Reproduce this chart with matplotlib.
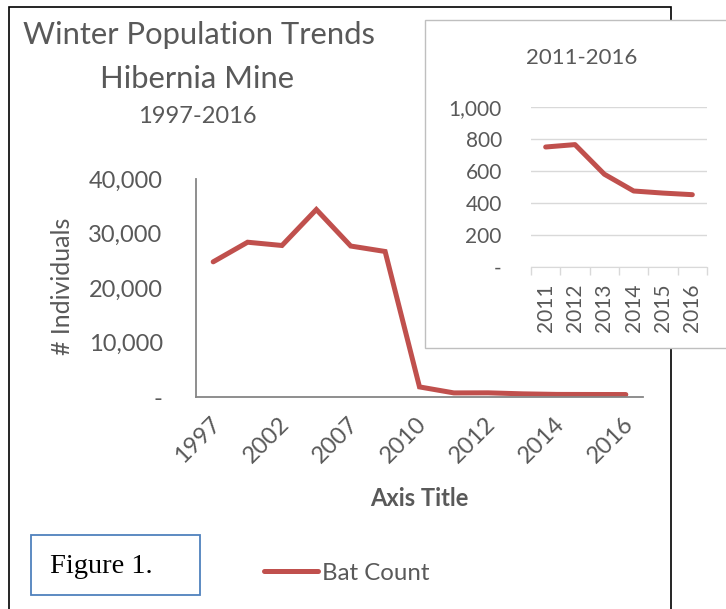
import matplotlib
matplotlib.use("Agg")
import matplotlib.pyplot as plt
from matplotlib.patches import Rectangle
from matplotlib.lines import Line2D
from matplotlib.transforms import ScaledTranslation

# bat counts per winter survey
years = ["1997", "1999", "2002", "2005", "2007", "2009", "2010",
         "2011", "2012", "2013", "2014", "2015", "2016"]
counts = [24800, 28400, 27800, 34400, 27700, 26700, 1850,
          750, 765, 580, 475, 462, 452]

# zoomed inset: the last six winters
inset_years = years[7:]
inset_counts = counts[7:]

main_yticks = [0, 10000, 20000, 30000, 40000]
main_ylabels = ["-", "10,000", "20,000", "30,000", "40,000"]
inset_yticks = [0, 200, 400, 600, 800, 1000]
inset_ylabels = ["-", "200", "400", "600", "800", "1,000"]

W, H = 726, 609
RED = "#C0504D"
GREY = "#595959"
FONT = "Lato"

plt.rcParams["font.family"] = [FONT, "DejaVu Sans"]


def fx(x):
    return x / W


def fy(y):
    return 1 - y / H


fig = plt.figure(figsize=(W / 100, H / 100), dpi=100)

# outer black frame (runs off the bottom of the image)
fig.patches.append(Rectangle((fx(9), fy(640)), fx(671) - fx(9), fy(7) - fy(640),
                             transform=fig.transFigure, fill=False,
                             edgecolor="black", lw=1.2, zorder=1))

# main chart
ax = fig.add_axes([fx(196), fy(397), fx(643) - fx(196), fy(179) - fy(397)])
ax.set_facecolor("none")
ax.plot(range(len(years)), counts, color=RED, lw=3.6,
        solid_joinstyle="miter", solid_capstyle="round", label="Bat Count")
ax.set_xlim(-0.5, len(years) - 0.5)
ax.set_ylim(0, 40000)
ax.set_yticks(main_yticks)
ax.set_yticklabels(main_ylabels)
ax.set_xticks(range(0, len(years), 2))
ax.set_xticklabels(years[::2], rotation=45, ha="right", va="center",
                   rotation_mode="anchor")
ax.tick_params(axis="both", length=0, labelsize=17, colors=GREY)
ax.tick_params(axis="x", pad=17)
ax.tick_params(axis="y", pad=24)
shift = ScaledTranslation(4 / 100, 0, fig.dpi_scale_trans)
for lbl in ax.get_xticklabels():
    lbl.set_transform(lbl.get_transform() + shift)
for s in ("top", "right"):
    ax.spines[s].set_visible(False)
for s in ("left", "bottom"):
    ax.spines[s].set_color("#868686")
    ax.spines[s].set_linewidth(1.3)

# titles on the left
fig.text(fx(199), fy(44), "Winter Population Trends", ha="center",
         va="baseline", fontsize=22.3, color=GREY)
fig.text(fx(197), fy(88), "Hibernia Mine", ha="center", va="baseline",
         fontsize=22.3, color=GREY)
fig.text(fx(197), fy(123), "1997-2016", ha="center", va="baseline",
         fontsize=17, color=GREY)
fig.text(fx(63), fy(286), "# Individuals", ha="center", va="center",
         rotation=90, fontsize=18, color=GREY)
fig.text(fx(419), fy(499), "Axis Title", ha="center", va="center",
         fontsize=17, fontweight="bold", color=GREY)

# legend
fig.legend([Line2D([0], [0], color=RED, lw=3.6, solid_capstyle="round")],
           ["Bat Count"], loc="center left",
           bbox_to_anchor=(fx(264), fy(573)), frameon=False, borderpad=0,
           borderaxespad=0, handlelength=2.25, handletextpad=0.15,
           fontsize=17.3, labelcolor=GREY)

# "Figure 1." text box
fig.patches.append(Rectangle((fx(31), fy(595)), fx(200) - fx(31), fy(535) - fy(595),
                             transform=fig.transFigure, facecolor="white",
                             edgecolor="#4F81BD", lw=1.3, zorder=2))
fig.text(fx(50), fy(573), "Figure 1.", ha="left", va="baseline",
         fontsize=20.5, family="Liberation Serif", color="black", zorder=3)

# inset chart box
fig.patches.append(Rectangle((fx(425), fy(348)), fx(740) - fx(425), fy(20) - fy(348),
                             transform=fig.transFigure, facecolor="white",
                             edgecolor="#BFBFBF", lw=1.0, zorder=2))
fig.text(fx(582), fy(58), "2011-2016", ha="center", va="center",
         fontsize=16, color=GREY, zorder=3)

ins = fig.add_axes([fx(531), fy(267), fx(707) - fx(531), fy(107) - fy(267)])
ins.set_zorder(3)
ins.set_facecolor("none")
ins.plot(range(len(inset_years)), inset_counts, color=RED, lw=3.6,
         solid_capstyle="round")
ins.set_xlim(-0.5, len(inset_years) - 0.5)
ins.set_ylim(0, 1000)
ins.set_yticks(inset_yticks)
ins.set_yticklabels(inset_ylabels)
ins.grid(axis="y", color="#D9D9D9", lw=1.0)
ins.set_axisbelow(True)
ins.set_xticks(range(len(inset_years)))
ins.set_xticklabels(inset_years, rotation=90)
ins.set_xticks([i - 0.5 for i in range(len(inset_years) + 1)], minor=True)
ins.tick_params(axis="x", which="major", length=0, pad=12)
ins.tick_params(axis="x", which="minor", length=6, color="#D9D9D9", width=1.0)
ins.tick_params(axis="y", length=0, pad=21)
ins.tick_params(axis="both", labelsize=15, colors=GREY)
ins.tick_params(axis="x", which="minor", colors="#D9D9D9")
for s in ("top", "right", "left"):
    ins.spines[s].set_visible(False)
ins.spines["bottom"].set_color("#D9D9D9")

fig.savefig("out.png", dpi=100)
